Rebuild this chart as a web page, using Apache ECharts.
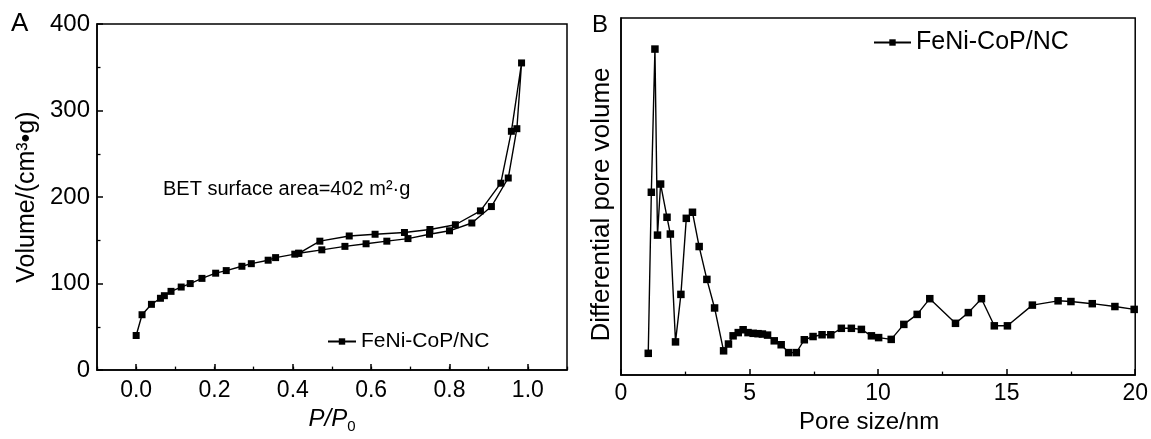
<!DOCTYPE html>
<html>
<head>
<meta charset="utf-8">
<script src="https://cdn.jsdelivr.net/npm/echarts@6/dist/echarts.min.js"></script>
<style>
  html, body { margin: 0; padding: 0; background: #fff; }
  #chart { width: 1151px; height: 439px; }
</style>
</head>
<body>
<div id="chart"></div>
<script>
// ---- Panel A: N2 isotherm (adsorption then desorption) ----
const adsP = [0.0, 0.015, 0.039, 0.062, 0.072, 0.089, 0.115, 0.138, 0.168, 0.203, 0.23, 0.27, 0.294, 0.337, 0.356, 0.405, 0.415, 0.474, 0.533, 0.587, 0.64, 0.694, 0.749, 0.80, 0.857, 0.907, 0.95, 0.972, 0.984];
const adsV = [40, 64, 76, 83, 86, 91, 96, 100, 106, 112, 115, 120, 123, 127, 130, 134, 135, 139, 143, 146, 149, 152, 157, 161, 170, 189, 222, 279, 355];
const desP = [0.958, 0.931, 0.879, 0.815, 0.75, 0.685, 0.61, 0.544, 0.469, 0.415];
const desV = [276, 216, 184, 168, 162.5, 159, 157, 155, 149, 135];
const aXTicks = [0, 0.2, 0.4, 0.6, 0.8, 1.0];

// ---- Panel B: pore size distribution (arbitrary units) ----
const poreSize = [1.06, 1.18, 1.32, 1.42, 1.54, 1.79, 1.92, 2.12, 2.33, 2.54, 2.78, 3.04, 3.34, 3.64, 3.99, 4.18, 4.36, 4.56, 4.75, 4.94, 5.14, 5.33, 5.50, 5.70, 5.96, 6.23, 6.52, 6.82, 7.13, 7.47, 7.82, 8.16, 8.57, 8.96, 9.35, 9.74, 10.02, 10.51, 11.0, 11.52, 12.01, 13.01, 13.51, 14.02, 14.52, 15.03, 16.0, 17.0, 17.5, 18.33, 19.21, 19.96];
const poreVol = [6.1, 51.2, 91.3, 39.2, 53.5, 44.2, 39.5, 9.3, 22.6, 43.9, 45.6, 36.0, 26.8, 18.8, 6.8, 8.7, 11.0, 11.9, 12.7, 11.9, 11.7, 11.6, 11.5, 11.2, 9.6, 8.5, 6.3, 6.3, 9.9, 10.8, 11.3, 11.3, 13.1, 13.1, 12.8, 11.0, 10.5, 10.0, 14.2, 17.0, 21.4, 14.5, 17.5, 21.4, 13.8, 13.8, 19.6, 20.8, 20.6, 20.0, 19.2, 18.4];

const seriesName = 'FeNi-CoP/NC';
const FONT = '"Liberation Sans", Arial, sans-serif';

const isoData = adsP.map((p, i) => [p, adsV[i]]).concat(desP.map((p, i) => [p, desV[i]]));
const psdData = poreSize.map((s, i) => [s, poreVol[i]]);

const axisLineStyle = { show: true, onZero: false, lineStyle: { color: '#000', width: 1.5 } };

const chart = echarts.init(document.getElementById('chart'), null, { renderer: 'canvas' });
chart.setOption({
  backgroundColor: '#fff',
  animation: false,
  textStyle: { fontFamily: FONT, color: '#000' },
  grid: [
    { left: 97, top: 24, width: 470, height: 357, show: true, borderColor: '#000', borderWidth: 1.5, backgroundColor: 'transparent' },
    { left: 621, top: 18, width: 516, height: 358, show: true, borderColor: '#000', borderWidth: 1.5, backgroundColor: 'transparent' }
  ],
  xAxis: [
    {
      gridIndex: 0, type: 'value', min: -0.1, max: 1.1,
      name: '{p|P/P}{s|0}', nameLocation: 'middle', nameGap: 35,
      nameTextStyle: { rich: {
        p: { fontFamily: FONT, fontSize: 24, fontStyle: 'italic', color: '#000', verticalAlign: 'top', lineHeight: 24 },
        s: { fontFamily: FONT, fontSize: 15, color: '#000', verticalAlign: 'bottom', lineHeight: 27 }
      } },
      axisLine: axisLineStyle,
      axisTick: { show: true, inside: true, length: 6, lineStyle: { color: '#000', width: 1.5 }, customValues: aXTicks },
      axisLabel: { customValues: aXTicks, fontSize: 23, color: '#000', fontFamily: FONT, margin: 9,
        formatter: v => v.toFixed(1) },
      splitLine: { show: false }
    },
    {
      gridIndex: 0, type: 'value', min: -0.1, max: 1.1, interval: 0.1, position: 'bottom',
      axisLine: { show: false, onZero: false },
      axisTick: { show: true, inside: true, length: 3.5, lineStyle: { color: '#000', width: 1.3 } },
      axisLabel: { show: false },
      splitLine: { show: false }
    },
    {
      gridIndex: 1, type: 'value', min: 0, max: 20, interval: 5,
      name: 'Pore size/nm', nameLocation: 'middle', nameGap: 33,
      nameTextStyle: { fontSize: 24, color: '#000', fontFamily: FONT, padding: [0, 18, 0, 0] },
      axisLine: axisLineStyle,
      axisTick: { show: true, inside: true, length: 6, lineStyle: { color: '#000', width: 1.5 } },
      minorTick: { show: true, splitNumber: 2, length: 3.5, lineStyle: { color: '#000', width: 1.3 } },
      axisLabel: { fontSize: 23, color: '#000', fontFamily: FONT, margin: 7 },
      splitLine: { show: false }
    }
  ],
  yAxis: [
    {
      gridIndex: 0, type: 'value', min: 0, max: 400, interval: 100,
      name: 'Volume/(cm³•g)', nameLocation: 'middle', nameGap: 57,
      nameTextStyle: { fontSize: 25, color: '#000', fontFamily: FONT },
      axisLine: axisLineStyle,
      axisTick: { show: true, inside: true, length: 6, lineStyle: { color: '#000', width: 1.5 } },
      minorTick: { show: true, splitNumber: 2, length: 3.5, lineStyle: { color: '#000', width: 1.3 } },
      axisLabel: { fontSize: 24, color: '#000', fontFamily: FONT, margin: 7 },
      splitLine: { show: false }
    },
    {
      gridIndex: 1, type: 'value', min: 0, max: 100,
      name: 'Differential pore volume', nameLocation: 'middle', nameGap: 6,
      nameTextStyle: { fontSize: 26, color: '#000', fontFamily: FONT, padding: [0, 16, 0, 0] },
      axisLine: axisLineStyle,
      axisTick: { show: false },
      axisLabel: { show: false },
      splitLine: { show: false }
    }
  ],
  legend: [
    {
      left: 327, top: 331, padding: 0, itemWidth: 28, itemHeight: 8,
      data: [seriesName], selectedMode: false,
      textStyle: { fontSize: 21, color: '#000', fontFamily: FONT }
    },
    {
      left: 873, top: 30, padding: 0, itemWidth: 37, itemHeight: 8,
      data: [seriesName], selectedMode: false,
      textStyle: { fontSize: 25, color: '#000', fontFamily: FONT }
    }
  ],
  graphic: [
    { type: 'text', left: 11, top: 11, style: { text: 'A', font: '26px ' + FONT, fill: '#000' } },
    { type: 'text', left: 592, top: 13, style: { text: 'B', font: '24px ' + FONT, fill: '#000' } },
    { type: 'text', left: 163, top: 179, style: { text: 'BET surface area=402 m²·g', font: '20px ' + FONT, fill: '#000' } }
  ],
  series: [
    {
      name: seriesName, type: 'line', xAxisIndex: 0, yAxisIndex: 0,
      data: isoData, symbol: 'rect', symbolSize: 7, showSymbol: true,
      lineStyle: { color: '#000', width: 1.4 }, itemStyle: { color: '#000' }
    },
    {
      name: seriesName, type: 'line', xAxisIndex: 2, yAxisIndex: 1,
      data: psdData, symbol: 'rect', symbolSize: 7.5, showSymbol: true,
      lineStyle: { color: '#000', width: 1.4 }, itemStyle: { color: '#000' }
    }
  ]
});
</script>
</body>
</html>
